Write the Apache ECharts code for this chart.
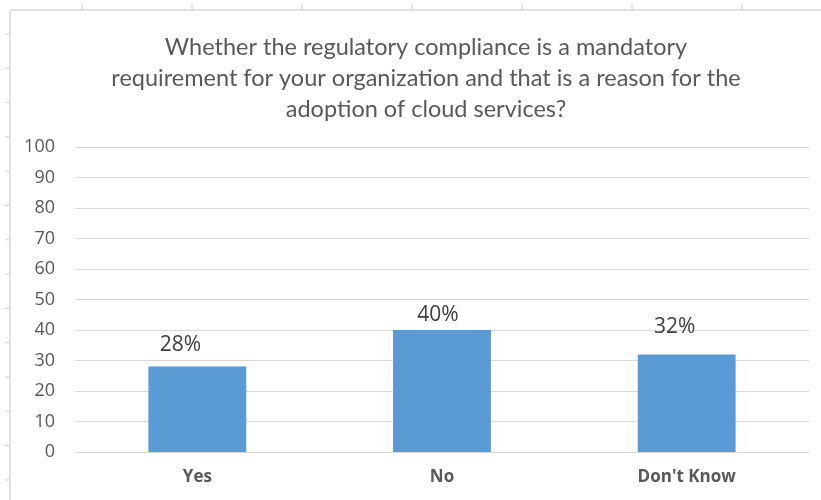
<!DOCTYPE html>
<html>
<head>
<meta charset="utf-8">
<script src="https://cdn.jsdelivr.net/npm/echarts@6/dist/echarts.min.js"></script>
<style>
  html, body { margin: 0; padding: 0; background: #fff; }
  #chart { width: 821px; height: 500px; }
</style>
</head>
<body>
<div id="chart"></div>
<script>
// data
const categories = ["Yes", "No", "Don't Know"];
const values = [28, 40, 32];
const yTicks = [0, 10, 20, 30, 40, 50, 60, 70, 80, 90, 100];

const titleText = "Whether the regulatory compliance is a mandatory\nrequirement for your organization and that is a reason for the\nadoption of cloud services?";

// the value labels sit a little off-centre in the original
const labelShift = [[-17, -1], [-4, 6], [-12, -7]];

// sheet border and little row/column marks around the chart
const frame = [
  { type: "line", shape: { x1: 10, y1: 10, x2: 821, y2: 10 }, style: { stroke: "#d9d9d9", lineWidth: 1.5 } },
  { type: "line", shape: { x1: 10, y1: 10, x2: 10, y2: 500 }, style: { stroke: "#d9d9d9", lineWidth: 1.5 } },
];
for (let x = 82; x < 821; x += 110) {
  frame.push({ type: "line", shape: { x1: x, y1: 4, x2: x, y2: 10 }, style: { stroke: "#d0d0d0", lineWidth: 1 } });
}
for (let y = 34; y < 500; y += 34.3) {
  frame.push({ type: "line", shape: { x1: 5, y1: y, x2: 10, y2: y }, style: { stroke: "#d0d0d0", lineWidth: 1 } });
}

const chart = echarts.init(document.getElementById("chart"));
chart.setOption({
  backgroundColor: "#fff",
  animation: false,
  title: {
    text: titleText,
    left: 421,
    top: 27,
    textAlign: "center",
    textStyle: {
      fontFamily: "Lato",
      fontWeight: "normal",
      fontSize: 23.5,
      lineHeight: 31,
      color: "#595959",
    },
  },
  graphic: frame,
  grid: { left: 75, right: 12, top: 147, bottom: 48 },
  xAxis: {
    type: "category",
    data: categories,
    axisLine: { lineStyle: { color: "#d9d9d9" } },
    axisTick: { show: false },
    axisLabel: {
      margin: 17,
      fontFamily: "Open Sans",
      fontWeight: "bold",
      fontSize: 17,
      color: "#595959",
    },
  },
  yAxis: {
    type: "value",
    min: yTicks[0],
    max: yTicks[yTicks.length - 1],
    interval: 10,
    axisLine: { show: false },
    axisTick: { show: false },
    axisLabel: {
      margin: 20,
      fontFamily: "Open Sans",
      fontSize: 18,
      color: "#595959",
    },
    splitLine: { lineStyle: { color: "#d9d9d9", width: 1 } },
  },
  series: [
    {
      type: "bar",
      data: values.map((v, i) => ({ value: v, label: { offset: labelShift[i] } })),
      barWidth: "40%",
      itemStyle: { color: "#5b9bd5" },
      label: {
        show: true,
        position: "top",
        distance: 10,
        formatter: "{c}%",
        fontFamily: "Open Sans",
        fontSize: 21,
        color: "#404040",
      },
    },
  ],
});
</script>
</body>
</html>
